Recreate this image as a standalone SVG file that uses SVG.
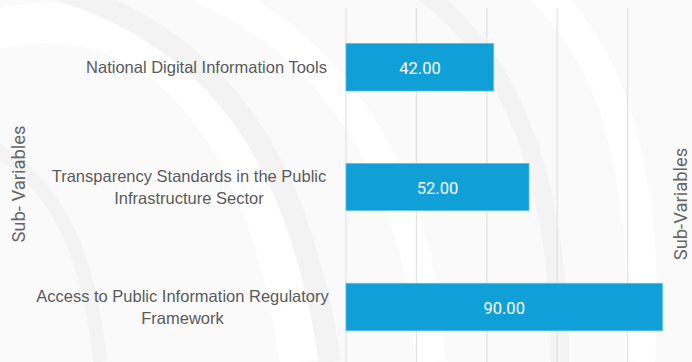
<svg xmlns="http://www.w3.org/2000/svg" width="692" height="362" viewBox="0 0 692 362">
<style>
.bg{fill:#fafafa}
.arc{fill:none;stroke:#f3f3f3}
.arcw{fill:none;stroke:#ffffff}
.grid{stroke:#e2e2e2;stroke-width:1.2}
.bar{fill:#109fd6;stroke:#5cc0e6;stroke-width:0.8}
.cat{font-family:"Liberation Sans",Arial,sans-serif;font-size:16.5px;fill:#5a5a5a;text-anchor:middle}
.val{font-family:Roboto,"Liberation Sans",sans-serif;font-size:16.5px;fill:#ffffff;text-anchor:middle}
.ttl{font-family:Roboto,"Liberation Sans",sans-serif;font-size:18.4px;fill:#666666;text-anchor:middle}
</style>
<g id="background">
<rect class="bg" x="0" y="0" width="692" height="362"/>
<path class="arcw" stroke-width="40" d="M-40,40 C120,-20 260,80 300,362"/>
<path class="arc" stroke-width="22" d="M60,-10 C220,40 300,160 330,362"/>
<path class="arcw" stroke-width="30" d="M180,-20 C320,30 420,160 430,362"/>
<path class="arc" stroke-width="18" d="M420,-10 C520,60 560,200 560,362"/>
<path class="arcw" stroke-width="30" d="M540,-10 C620,60 650,200 640,362"/>
<path class="arc" stroke-width="14" d="M-20,140 C60,180 90,260 100,362"/>
</g>
<g id="gridlines">
<line class="grid" x1="346" y1="8" x2="346" y2="362"/>
<line class="grid" x1="416.4" y1="8" x2="416.4" y2="362"/>
<line class="grid" x1="486.8" y1="8" x2="486.8" y2="362"/>
<line class="grid" x1="557.2" y1="8" x2="557.2" y2="362"/>
<line class="grid" x1="627.6" y1="8" x2="627.6" y2="362"/>
</g>
<g id="bar-national-digital">
<rect class="bar" x="346" y="43.5" width="147.7" height="47.5"/>
<text class="val" x="420" y="74">42.00</text>
<text class="cat" x="206.5" y="73">National Digital Information Tools</text>
</g>
<g id="bar-transparency">
<rect class="bar" x="346" y="163.5" width="183" height="47"/>
<text class="val" x="437.5" y="194">52.00</text>
<text class="cat" x="189" y="182">Transparency Standards in the Public</text>
<text class="cat" x="189" y="204">Infrastructure Sector</text>
</g>
<g id="bar-access">
<rect class="bar" x="346" y="283.3" width="316.4" height="47.5"/>
<text class="val" x="504.2" y="314">90.00</text>
<text class="cat" x="182.5" y="302">Access to Public Information Regulatory</text>
<text class="cat" x="182.5" y="324">Framework</text>
</g>
<g id="axis-title-left">
<text class="ttl" transform="translate(25,184) rotate(-90)">Sub- Variables</text>
</g>
<g id="axis-title-right">
<text class="ttl" transform="translate(686.5,204) rotate(-90)">Sub-Variables</text>
</g>
</svg>
